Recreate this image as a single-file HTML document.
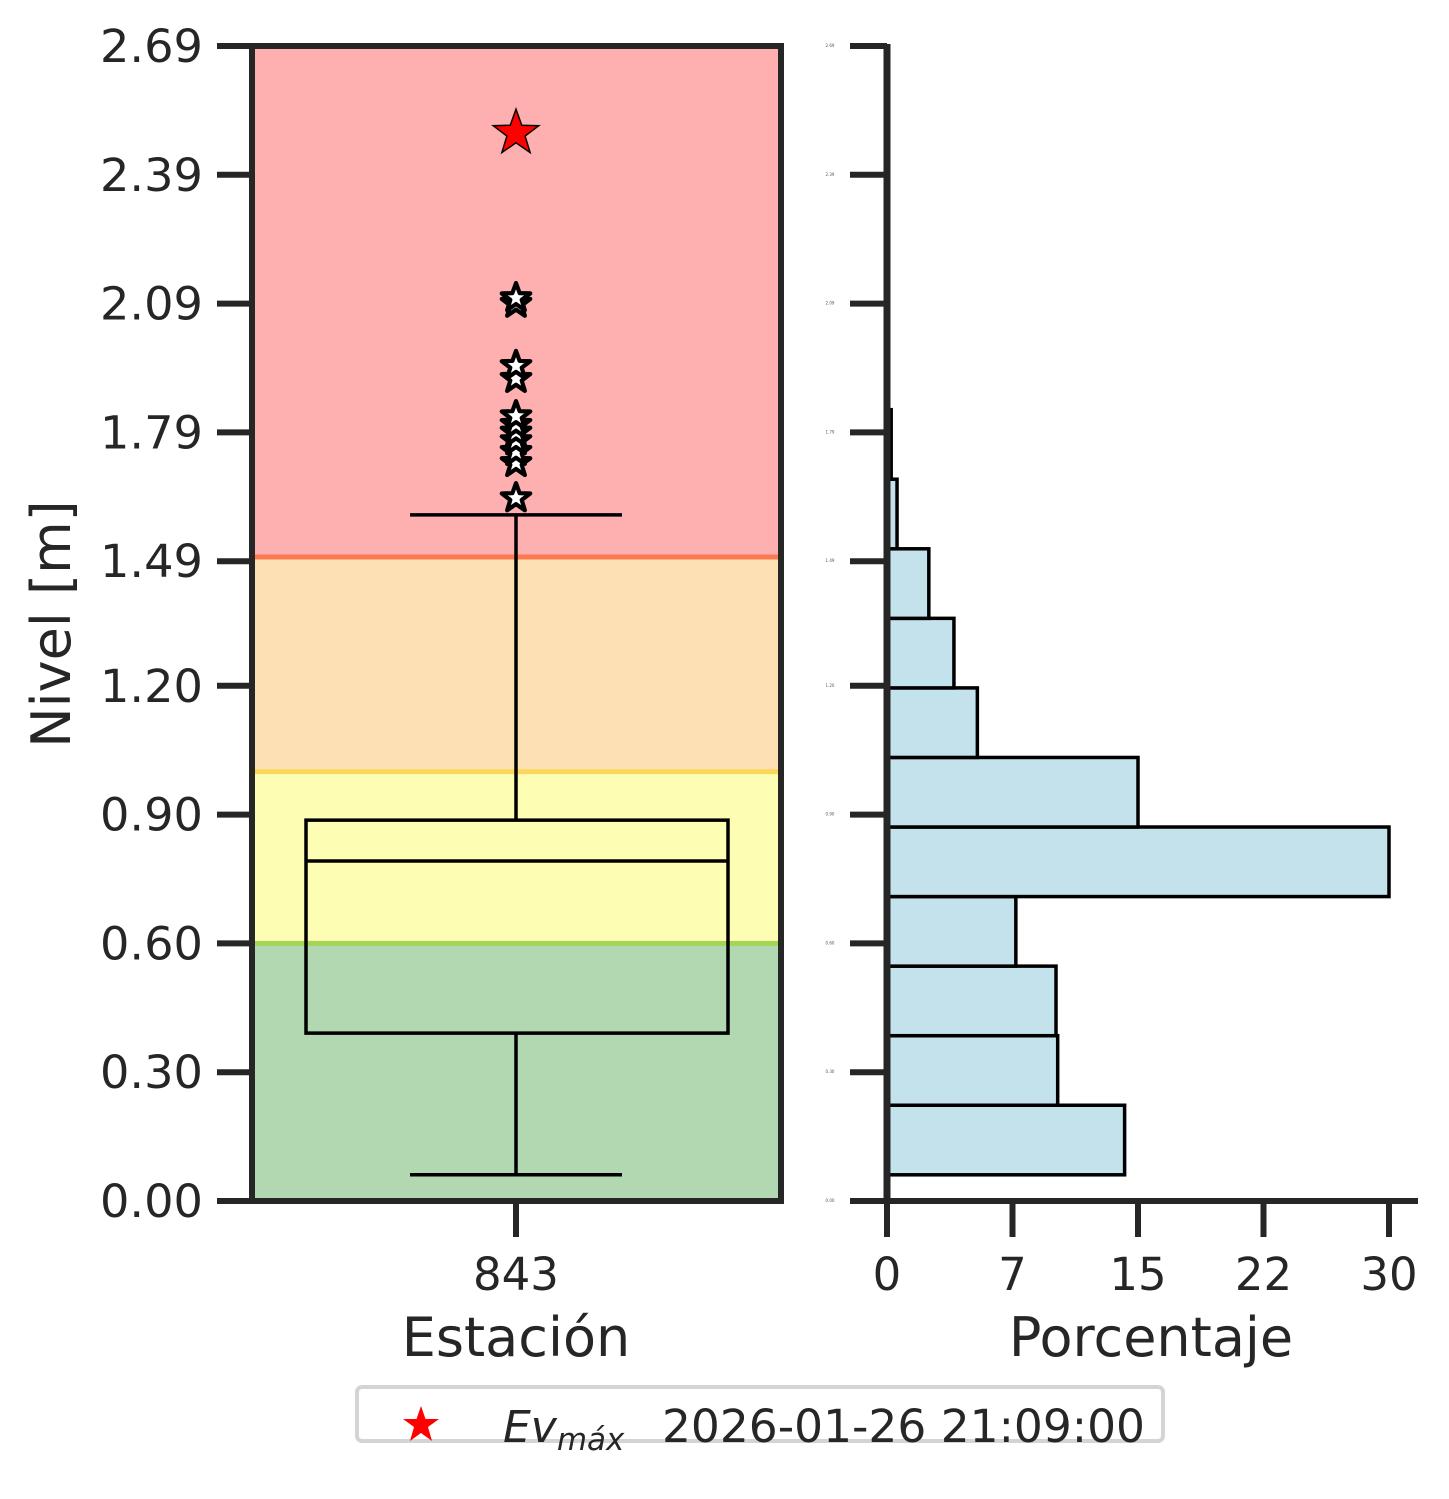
<!DOCTYPE html>
<html><head><meta charset="utf-8"><style>
body{margin:0;background:#fff}
svg{display:block;font-family:"DejaVu Sans","Liberation Sans",sans-serif}
</style></head><body>
<svg id="c" width="1449" height="1499" viewBox="0 0 1449 1499">
<g id="left"></g>
<g id="right"></g>
<g>
<rect x="357" y="1387" width="806" height="54" rx="5" fill="#fff" stroke="#d4d4d4" stroke-width="4"/>
<polygon points="0,-19 4.5,-6 18,-6 7,2 11,16 0,8 -11,16 -7,2 -18,-6 -4.5,-6" transform="translate(421,1425)" fill="#ff0000"/>
<text x="503" y="1442" font-size="44" font-style="italic" fill="#262626">Ev<tspan font-size="31" dy="8">máx</tspan></text>
<text x="662" y="1442" font-size="45" fill="#262626" textLength="483" lengthAdjust="spacingAndGlyphs">2026-01-26 21:09:00</text>
</g>
</svg>
<script>
const levels=[0.00,0.30,0.60,0.90,1.20,1.49,1.79,2.09,2.39,2.69];
const levelLabels=["0.00","0.30","0.60","0.90","1.20","1.49","1.79","2.09","2.39","2.69"];
const zoneBounds=[0,0.6,1.0,1.5,2.69];
const zoneColors=["#b2d8b2","#fdfdb3","#fde1b4","#feb0b0"];
const zoneLineColors=["#a6d454","#fbd85a","#fd7a50"];
const boxStats=[0.061,0.391,0.792,0.887,1.598]; // min,q1,med,q3,max whisker
const outliers=[1.637,1.719,1.745,1.770,1.790,1.808,1.828,1.915,1.945,2.090,2.103];
const maxEvent=2.487;
const station="843";
const binStart=0.061, binWidth=0.162;
const binPct=[14.2,10.2,10.1,7.7,30.0,15.0,5.4,4.0,2.5,0.6,0.25];
const pctTicks=[0,7.5,15,22.5,30];
const pctTickLabels=["0","7","15","22","30"];

const NS="http://www.w3.org/2000/svg";
function mk(tag,attrs,parent){const e=document.createElementNS(NS,tag);for(const k in attrs)e.setAttribute(k,attrs[k]);parent.appendChild(e);return e;}
const Y0=1201,Y1=46,YMAX=2.69;
const y=v=>Y0-(v/YMAX)*(Y0-Y1);
const L=document.getElementById('left'),R=document.getElementById('right');
const XL=252,XR=781,XC=516;
for(let i=0;i<zoneColors.length;i++){
 const r=mk('rect',{x:XL,y:y(zoneBounds[i+1]),width:XR-XL,height:y(zoneBounds[i])-y(zoneBounds[i+1]),fill:zoneColors[i]},L);
 
 
}
for(let i=0;i<zoneLineColors.length;i++){
 const l=mk('line',{x1:XL,x2:XR,y1:y(zoneBounds[i+1]),y2:y(zoneBounds[i+1]),stroke:zoneLineColors[i],'stroke-width':5},L);
 
 
}
const bw=[XL+54,XR-53];
const g=mk('g',{fill:'none',stroke:'#000','stroke-width':3.5},L);


mk('rect',{x:bw[0],y:y(boxStats[3]),width:bw[1]-bw[0],height:y(boxStats[1])-y(boxStats[3])},g);
mk('line',{x1:bw[0],x2:bw[1],y1:y(boxStats[2]),y2:y(boxStats[2])},g);
mk('line',{x1:XC,x2:XC,y1:y(boxStats[0]),y2:y(boxStats[1])},g);
mk('line',{x1:XC,x2:XC,y1:y(boxStats[3]),y2:y(boxStats[4])},g);
mk('line',{x1:XC-106,x2:XC+106,y1:y(boxStats[0]),y2:y(boxStats[0])},g);
mk('line',{x1:XC-106,x2:XC+106,y1:y(boxStats[4]),y2:y(boxStats[4])},g);
const star="0,-1 0.24,-0.33 0.95,-0.31 0.38,0.12 0.59,0.81 0,0.4 -0.59,0.81 -0.38,0.12 -0.95,-0.31 -0.24,-0.33";
outliers.forEach(v=>{const p=mk('polygon',{points:star,transform:`translate(${XC},${y(v)}) scale(15)`,fill:'#fff',stroke:'#000','stroke-width':0.28,'stroke-linejoin':'round'},L);
 
 });
const ms=mk('polygon',{points:star,transform:`translate(${XC},${y(maxEvent)}) scale(24)`,fill:'#ff0000',stroke:'#000','stroke-width':0.06},L);


mk('rect',{x:XL,y:Y1,width:XR-XL,height:Y0-Y1,fill:'none',stroke:'#262626','stroke-width':6},L);
levels.forEach((v,i)=>{
 mk('line',{x1:217,x2:XL,y1:y(v),y2:y(v),stroke:'#262626','stroke-width':6},L);
 const t=mk('text',{x:203,y:y(v)+16,'text-anchor':'end','font-size':45,fill:'#262626',textLength:103,lengthAdjust:'spacingAndGlyphs'},L);t.textContent=levelLabels[i];
 
 
});
mk('line',{x1:XC,x2:XC,y1:Y0,y2:Y0+36,stroke:'#262626','stroke-width':6},L);
let t=mk('text',{x:XC,y:1290,'text-anchor':'middle','font-size':45,fill:'#262626'},L);t.textContent=station;

t=mk('text',{x:XC,y:1356,'text-anchor':'middle','font-size':54,fill:'#262626'},L);t.textContent="Estación";

t=mk('text',{x:0,y:0,'text-anchor':'middle','font-size':54,fill:'#262626',transform:'translate(70,624) rotate(-90)'},L);t.textContent="Nivel [m]";

const X0=887,X30=1389;
const x=v=>X0+v/30*(X30-X0);
binPct.forEach((p,i)=>{const lo=binStart+i*binWidth;
 const b=mk('rect',{x:X0,y:y(lo+binWidth),width:x(p)-X0,height:y(lo)-y(lo+binWidth),fill:'#c3e2eb',stroke:'#000','stroke-width':3.5},R);
 
 });
mk('line',{x1:X0,x2:X0,y1:Y1-2,y2:Y0+2,stroke:'#262626','stroke-width':7},R);
mk('line',{x1:X0-2,x2:1418,y1:Y0,y2:Y0,stroke:'#262626','stroke-width':6},R);
levels.forEach((v,i)=>{
 mk('line',{x1:850,x2:X0,y1:y(v),y2:y(v),stroke:'#262626','stroke-width':6},R);
 const s=mk('text',{x:830,y:y(v)+1,'text-anchor':'middle','font-size':4,fill:'#555'},R);s.textContent=levelLabels[i];
 
 
});
pctTicks.forEach((v,i)=>{
 mk('line',{x1:x(v),x2:x(v),y1:Y0,y2:Y0+36,stroke:'#262626','stroke-width':6},R);
 const s=mk('text',{x:x(v),y:1290,'text-anchor':'middle','font-size':45,fill:'#262626'},R);s.textContent=pctTickLabels[i];
 
 
});
t=mk('text',{x:1151,y:1356,'text-anchor':'middle','font-size':54,fill:'#262626'},R);t.textContent="Porcentaje";

</script>
</body></html>
